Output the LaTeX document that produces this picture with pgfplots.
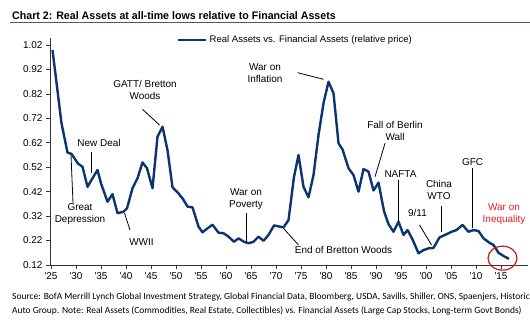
\documentclass[border=0pt]{standalone}
\usepackage{fontspec}
\setmainfont{Liberation Sans}
\newfontfamily\titlefont[FakeStretch=0.97]{Liberation Sans}
\newfontfamily\srcfont{Carlito}
\usepackage{pgfplots}
\pgfplotsset{compat=1.18}
\definecolor{lineblue}{RGB}{12,52,112}
\definecolor{rulecol}{RGB}{70,90,120}
\definecolor{ineqred}{RGB}{230,30,35}
\newcommand{\annfont}{\fontsize{10}{12}\selectfont}
\begin{document}
\begin{tikzpicture}[x=1bp,y=1bp]
\useasboundingbox (0,0) rectangle (530,329);
\node[anchor=base west, inner sep=0pt, font=\titlefont\bfseries\fontsize{11}{12}\selectfont] at (12,310) {Chart 2: Real Assets at all-time lows relative to Financial Assets};
\draw[rulecol, line width=1bp] (10,307) -- (530,307);
\node[anchor=base west, inner sep=0pt, font=\srcfont\fontsize{9.5}{11}\selectfont] at (12,30) {Source: BofA Merrill Lynch Global Investment Strategy, Global Financial Data, Bloomberg, USDA, Savills, Shiller, ONS, Spaenjers, Historic};
\node[anchor=base west, inner sep=0pt, font=\srcfont\fontsize{9.5}{11}\selectfont] at (12,16) {Auto Group. Note: Real Assets (Commodities, Real Estate, Collectibles) vs. Financial Assets (Large Cap Stocks, Long-term Govt Bonds)};
\begin{axis}[
  at={(50bp,64bp)}, anchor=south west,
  scale only axis, width=478bp, height=227bp,
  xmin=1924.8, xmax=2020.4, ymin=0.12, ymax=1.049,
  axis x line*=bottom, axis y line*=left,
  axis line style={black!80, line width=0.8pt},
  tick style={black!80, line width=0.8pt},
  tick align=outside, major tick length=4bp,
  xtick={1925,1930,1935,1940,1945,1950,1955,1960,1965,1970,1975,1980,1985,1990,1995,2000,2005,2010,2015},
  xticklabels={\textquotesingle25,\textquotesingle30,\textquotesingle35,\textquotesingle40,\textquotesingle45,\textquotesingle50,\textquotesingle55,\textquotesingle60,\textquotesingle65,\textquotesingle70,\textquotesingle75,\textquotesingle80,\textquotesingle85,\textquotesingle90,\textquotesingle95,\textquotesingle00,\textquotesingle05,\textquotesingle10,\textquotesingle15},
  ytick={0.12,0.22,0.32,0.42,0.52,0.62,0.72,0.82,0.92,1.02},
  yticklabels={0.12,0.22,0.32,0.42,0.52,0.62,0.72,0.82,0.92,1.02},
  ticklabel style={font=\fontsize{10}{12}\selectfont},
  clip=false,
  legend style={at={(axis cs:1950.2,1.04)}, anchor=west, draw=none, fill=none, inner sep=0pt, outer sep=0pt, font=\fontsize{9.6}{11}\selectfont},
  legend image code/.code={\draw[lineblue,line width=2.6bp] (0bp,0bp) -- (28bp,0bp);},
]
\addplot[lineblue, line width=2.4bp, line join=round, mark=none] coordinates {
(1925.3,1.00) (1926.2,0.85) (1927.1,0.70) (1928.3,0.58) (1929.1,0.575)
(1930.4,0.535) (1931.3,0.522) (1932.3,0.44) (1933.1,0.468) (1934.3,0.509)
(1935.0,0.454) (1936.3,0.379) (1937.3,0.41) (1938.3,0.332) (1939.5,0.338)
(1940.2,0.352) (1941.3,0.434) (1942.3,0.475) (1943.3,0.54) (1944.2,0.516)
(1945.3,0.434) (1946.3,0.645) (1947.3,0.686) (1948.3,0.59) (1949.3,0.438)
(1950.5,0.413) (1951.4,0.39) (1952.3,0.359) (1953.3,0.356) (1954.5,0.277)
(1955.3,0.254) (1956.3,0.27) (1957.3,0.285) (1958.5,0.252) (1959.5,0.25)
(1960.5,0.236) (1961.6,0.215) (1962.5,0.229) (1963.6,0.215) (1964.5,0.209)
(1965.5,0.215) (1966.5,0.236) (1967.5,0.219) (1968.5,0.243) (1969.6,0.282)
(1971.5,0.274) (1972.5,0.304) (1973.6,0.481) (1974.5,0.57) (1975.5,0.44)
(1976.5,0.397) (1977.5,0.488) (1978.5,0.652) (1979.5,0.782) (1980.5,0.87)
(1981.5,0.823) (1982.5,0.618) (1983.3,0.593) (1984.5,0.516) (1985.5,0.488)
(1986.5,0.42) (1987.5,0.513) (1988.5,0.502) (1989.5,0.425) (1990.5,0.457)
(1991.6,0.34) (1992.5,0.287) (1993.5,0.256) (1994.5,0.297) (1995.5,0.243)
(1996.3,0.263) (1997.3,0.225) (1998.5,0.168) (1999.5,0.181) (2000.5,0.188)
(2001.5,0.19) (2002.7,0.233) (2003.8,0.243) (2005.1,0.256) (2006.1,0.263)
(2007.3,0.284) (2008.5,0.256) (2009.5,0.263) (2010.5,0.259) (2011.5,0.229)
(2012.7,0.211) (2013.5,0.202) (2014.5,0.17) (2015.5,0.157) (2016.6,0.145)
};
\addlegendentry{Real Assets vs. Financial Assets (relative price)}
% annotations
\draw[black, line width=0.8pt] (axis cs:1929,0.57) -- (axis cs:1929.4,0.374);
\node[align=center, font=\annfont, inner sep=0pt] at (axis cs:1930.8,0.329) {Great\\Depression};
\draw[black, line width=0.8pt] (axis cs:1933.1,0.584) -- (axis cs:1933.1,0.495);
\node[font=\annfont, inner sep=0pt] at (axis cs:1934.6,0.619) {New Deal};
\draw[black, line width=0.8pt] (axis cs:1939.7,0.332) -- (axis cs:1940.8,0.263);
\node[font=\annfont, inner sep=0pt] at (axis cs:1943.1,0.215) {WWII};
\draw[black, line width=0.8pt] (axis cs:1943.3,0.757) -- (axis cs:1946.7,0.693);
\node[align=center, font=\annfont, inner sep=0pt] at (axis cs:1943.8,0.837) {GATT/ Bretton\\Woods};
\draw[black, line width=0.8pt] (axis cs:1964,0.332) -- (axis cs:1964,0.215);
\node[align=center, font=\annfont, inner sep=0pt] at (axis cs:1964,0.389) {War on\\Poverty};
\draw[black, line width=0.8pt] (axis cs:1974.3,0.907) -- (axis cs:1979.5,0.88);
\node[align=center, font=\annfont, inner sep=0pt] at (axis cs:1967.8,0.906) {War on\\Inflation};
\draw[black, line width=0.8pt] (axis cs:1971.5,0.27) -- (axis cs:1974.5,0.202);
\node[font=\annfont, inner sep=0pt] at (axis cs:1983.5,0.181) {End of Bretton Woods};
\draw[black, line width=0.8pt] (axis cs:1991.8,0.618) -- (axis cs:1989.8,0.481);
\node[align=center, font=\annfont, inner sep=0pt] at (axis cs:1993.8,0.67) {Fall of Berlin\\Wall};
\draw[black, line width=0.8pt] (axis cs:1994.5,0.468) -- (axis cs:1994.5,0.297);
\node[font=\annfont, inner sep=0pt] at (axis cs:1994.9,0.492) {NAFTA};
\draw[black, line width=0.8pt] (axis cs:2003.1,0.361) -- (axis cs:2003.1,0.256);
\node[align=center, font=\annfont, inner sep=0pt] at (axis cs:2002.6,0.427) {China\\WTO};
\draw[black, line width=0.8pt] (axis cs:1998.7,0.284) -- (axis cs:2001.1,0.202);
\node[font=\annfont, inner sep=0pt] at (axis cs:1998.3,0.332) {9/11};
\draw[black, line width=0.8pt] (axis cs:2009.3,0.516) -- (axis cs:2009.3,0.27);
\node[font=\annfont, inner sep=0pt] at (axis cs:2009.3,0.54) {GFC};
\node[align=center, font=\annfont, text=ineqred, inner sep=0pt] at (axis cs:2015.6,0.33) {War on\\Inequality};
\draw[ineqred!85!black, line width=1.2pt] (axis cs:2015.3,0.148) ellipse [x radius=14.5bp, y radius=12bp];
\end{axis}
\end{tikzpicture}
\end{document}
